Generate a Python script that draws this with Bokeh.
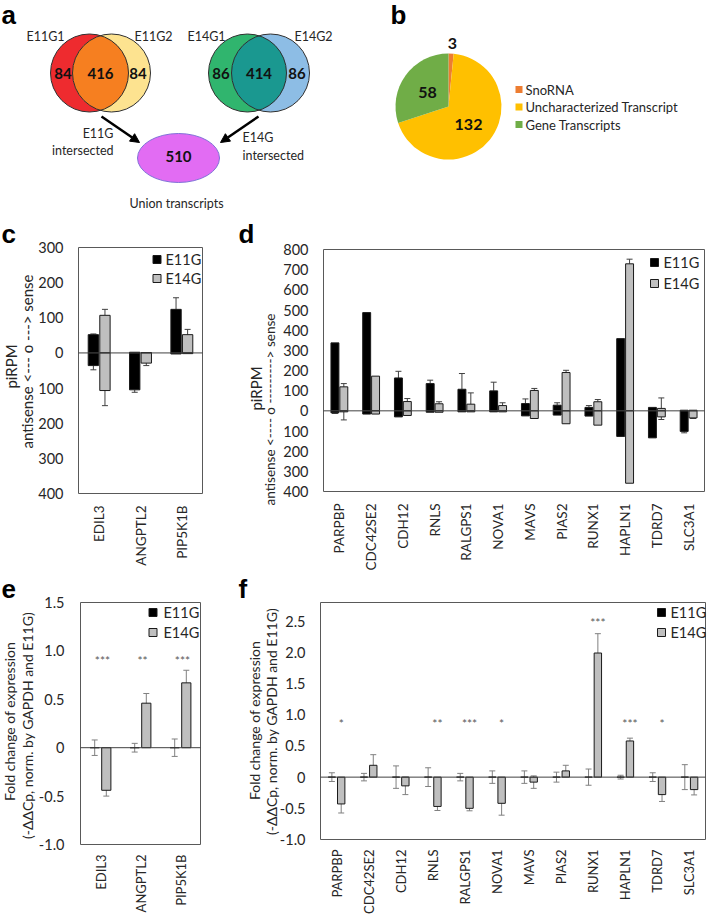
import math
from bokeh.plotting import figure
from bokeh.layouts import column, row
from bokeh.models import Range1d, Arrow, NormalHead, Whisker, TeeHead, ColumnDataSource
from bokeh.core.properties import value
from bokeh.embed import file_html
from bokeh.resources import INLINE

# ---------------- data ----------------
# a: Venn diagrams
e11_names = ["E11G1", "E11G2"]
e11_counts = [84, 416, 84]
e14_names = ["E14G1", "E14G2"]
e14_counts = [86, 414, 86]
union_count = 510

# b: pie
pie_labels = ["SnoRNA", "Uncharacterized Transcript", "Gene Transcripts"]
pie_values = [3, 132, 58]
pie_colors = ["#ED7D31", "#FFC000", "#70AD47"]

series_names = ["E11G", "E14G"]
series_colors = ["#000000", "#BFBFBF"]

# c: piRPM (sense up, antisense down)
genes_c = ["EDIL3", "ANGPTL2", "PIP5K1B"]
c_e11_sense = [52, 2, 124]
c_e11_sense_err = [2, 0, 33]
c_e11_anti = [36, 105, 3]
c_e11_anti_err = [12, 7, 0]
c_e14_sense = [107, 1, 52]
c_e14_sense_err = [17, 0, 15]
c_e14_anti = [107, 29, 2]
c_e14_anti_err = [43, 7, 0]
c_yticks = [300, 200, 100, 0, -100, -200, -300, -400]
c_ytick_labels = ["300", "200", "100", "0", "100", "200", "300", "400"]

# d: piRPM
genes_d = ["PARPBP", "CDC42SE2", "CDH12", "RNLS", "RALGPS1", "NOVA1",
           "MAVS", "PIAS2", "RUNX1", "HAPLN1", "TDRD7", "SLC3A1"]
d_e11_sense = [337, 487, 163, 135, 107, 99, 36, 28, 17, 358, 17, 3]
d_e11_sense_err = [0, 0, 33, 17, 78, 43, 23, 12, 9, 0, 0, 0]
d_e11_anti = [10, 16, 30, 7, 5, 5, 25, 21, 26, 127, 134, 102]
d_e11_anti_err = [3, 0, 0, 0, 0, 0, 0, 0, 0, 0, 0, 7]
d_e14_sense = [119, 172, 46, 35, 33, 26, 101, 190, 45, 729, 12, 3]
d_e14_sense_err = [16, 0, 15, 10, 56, 14, 10, 11, 11, 23, 52, 0]
d_e14_anti = [5, 16, 23, 7, 5, 5, 38, 64, 71, 359, 30, 35]
d_e14_anti_err = [40, 0, 0, 0, 0, 0, 0, 0, 0, 0, 13, 3]
d_yticks = [800, 700, 600, 500, 400, 300, 200, 100, 0, -100, -200, -300, -400]
d_ytick_labels = ["800", "700", "600", "500", "400", "300", "200", "100", "0",
                  "100", "200", "300", "400"]

# e: fold change
e_e11 = [0, 0, 0]
e_e11_err = [0.08, 0.045, 0.09]
e_e14 = [-0.44, 0.46, 0.67]
e_e14_err = [0.06, 0.10, 0.13]
e_stars = ["***", "**", "***"]
e_star_y = [0.9, 0.9, 0.9]
e_yticks = [1.5, 1.0, 0.5, 0, -0.5, -1.0]
e_ytick_labels = ["1.5", "1.0", "0.5", "0", "-0.5", "-1.0"]

# f: fold change
f_e11 = [0] * 12
f_e11_err = [0.07, 0.06, 0.18, 0.15, 0.06, 0.10, 0.10, 0.08, 0.13, 0.03, 0.07, 0.20]
f_e14 = [-0.43, 0.19, -0.14, -0.47, -0.50, -0.42, -0.08, 0.10, 1.99, 0.58, -0.28, -0.20]
f_e14_err = [0.145, 0.17, 0.14, 0.065, 0.04, 0.19, 0.10, 0.09, 0.31, 0.045, 0.11, 0.085]
f_stars = ["*", "", "", "**", "***", "*", "", "", "***", "***", "*", ""]
f_star_y = [0.86, 0.86, 0.86, 0.86, 0.86, 0.86, 0.86, 0.86, 2.48, 0.86, 0.86, 0.86]
f_yticks = [2.5, 2.0, 1.5, 1.0, 0.5, 0, -0.5, -1.0]
f_ytick_labels = ["2.5", "2.0", "1.5", "1.0", "0.5", "0", "-0.5", "-1.0"]

# ---------------- styling ----------------
FONT = "Lato"
LFONT = "Liberation Sans"
TXT = "#262626"
FRAME = "#595959"

def base_fig(x0, x1, y0, y1, xr, yr):
    p = figure(width=x1 - x0, height=y1 - y0, x_range=Range1d(*xr), y_range=Range1d(*yr),
               output_backend="svg", title=None, toolbar_location=None,
               x_axis_location=None, y_axis_location=None,
               min_border=0, min_border_left=0, min_border_right=0,
               min_border_top=0, min_border_bottom=0)
    p.grid.visible = False
    p.outline_line_color = None
    return p

def put(p, x, y, s, size, bold=False, align="center", baseline="middle", font=FONT,
        angle=0.0, color=TXT):
    p.text(x=[x], y=[y], text=[s], text_font=value(font), text_font_size=f"{size}px",
           text_font_style="bold" if bold else "normal", text_align=align,
           text_baseline=baseline, angle=angle, text_color=color)

# ---------------- panel a ----------------
# coordinates: x = page px, y = -page px
pa = base_fig(0, 345, 0, 218, (0, 345), (-218, 0))
R = 39
YC = -72.5

def lens(x1, x2, yc, r, n=50):
    th = math.acos((x2 - x1) / 2 / r)
    xs, ys = [], []
    for i in range(n + 1):
        a = -th + 2 * th * i / n
        xs.append(x1 + r * math.cos(a)); ys.append(yc + r * math.sin(a))
    for i in range(n + 1):
        a = math.pi - th + 2 * th * i / n
        xs.append(x2 + r * math.cos(a)); ys.append(yc + r * math.sin(a))
    return xs, ys

venns = [
    (89, 111, "#EE2B2F", "#FDE390", "#F67F20", e11_names, e11_counts, (45, 153)),
    (247, 270, "#30B56E", "#8DBDE5", "#1A9890", e14_names, e14_counts, (206, 313)),
]
for x1, x2, c1, c2, c12, names, counts, (lx1, lx2) in venns:
    pa.ellipse(x=[x1], y=[YC], width=2 * R, height=2 * R, fill_color=c1, line_color=None)
    pa.ellipse(x=[x2], y=[YC], width=2 * R, height=2 * R, fill_color=c2, line_color=None)
    lx, ly = lens(x1, x2, YC, R)
    pa.patch(lx, ly, fill_color=c12, line_color=None)
    pa.ellipse(x=[x1, x2], y=[YC, YC], width=2 * R, height=2 * R, fill_color=None,
               line_color="#303030", line_width=1)
    put(pa, lx1, -36, names[0], 12.5)
    put(pa, lx2, -36, names[1], 12.5)
    mid = (x1 + x2) / 2
    put(pa, x1 - R + 12.5, YC, str(counts[0]), 15, bold=True, color="#111")
    put(pa, mid, YC, str(counts[1]), 15, bold=True, color="#111")
    put(pa, x2 + R - 12.5, YC, str(counts[2]), 15, bold=True, color="#111")

pa.add_layout(Arrow(end=NormalHead(size=9, fill_color="black", line_color="black"),
                    x_start=101, y_start=-116, x_end=139, y_end=-142,
                    line_width=2.5, line_color="black"))
pa.add_layout(Arrow(end=NormalHead(size=9, fill_color="black", line_color="black"),
                    x_start=258, y_start=-116, x_end=220, y_end=-142,
                    line_width=2.5, line_color="black"))
pa.ellipse(x=[178], y=[-157.5], width=82, height=49, fill_color="#E26CF3",
           line_color="#8070D8", line_width=1)
put(pa, 178, -156, str(union_count), 15, bold=True, color="#111")
put(pa, 113, -133, "E11G", 12.5, align="right")
put(pa, 113, -150, "intersected", 12.5, align="right")
put(pa, 242, -137, "E14G", 12.5, align="left")
put(pa, 242, -155, "intersected", 12.5, align="left")
put(pa, 176, -203, "Union transcripts", 12.5)
put(pa, 1, -14, "a", 26, bold=True, align="left", font=LFONT, color="black")

# ---------------- panel b ----------------
pb = base_fig(345, 709, 0, 218, (345, 709), (-218, 0))
tot = sum(pie_values)
starts, ends = [], []
cum = 0
for v in pie_values:
    s0 = math.pi / 2 - 2 * math.pi * cum / tot
    starts.append(s0)
    ends.append(s0 - 2 * math.pi * v / tot)
    cum += v
pb.wedge(x=448, y=-106, radius=53, start_angle=starts, end_angle=ends,
         direction="clock", fill_color=pie_colors, line_color=None)
put(pb, 452, -43, str(pie_values[0]), 16, bold=True, color="#111")
put(pb, 468, -124, str(pie_values[1]), 16, bold=True, color="#111")
put(pb, 427, -92, str(pie_values[2]), 16, bold=True, color="#111")
leg_y = [-89, -106.5, -124]
pb.rect(x=[518.5] * 3, y=leg_y, width=7, height=7, fill_color=pie_colors, line_color=None)
for yy, t in zip(leg_y, pie_labels):
    put(pb, 525, yy, t, 13, align="left")
put(pb, 390, -14, "b", 26, bold=True, align="left", font=LFONT, color="black")

# ---------------- chart panels ----------------
def chart(x0, x1, y0, y1, box, xr, yr):
    """Figure whose frame is the whole canvas; the plot box (ref px) maps to xr/yr."""
    fl, fr, ft, fb = box
    sx = (xr[1] - xr[0]) / (fr - fl)
    sy = (yr[1] - yr[0]) / (fb - ft)
    p = base_fig(x0, x1, y0, y1,
                 (xr[0] - (fl - x0) * sx, xr[1] + (x1 - fr) * sx),
                 (yr[0] - (y1 - fb) * sy, yr[1] + (ft - y0) * sy))

    def fx(rx):
        return xr[0] + (rx - fl) * sx

    def fy(ry):
        return yr[1] - (ry - ft) * sy
    return p, fx, fy

def frame_and_axes(p, fx, fy, xr, yr, cats, yticks, ylabels, tick_right, cat_top,
                   tick_size=14.5, cat_size=13.5):
    p.quad(left=[xr[0]], right=[xr[1]], bottom=[yr[0]], top=[yr[1]], fill_color=None,
           line_color=FRAME, line_width=1)
    p.segment(x0=[xr[0]], y0=[0], x1=[xr[1]], y1=[0], line_color="#404040", line_width=1)
    p.text(x=[fx(tick_right)] * len(yticks), y=yticks, text=ylabels, text_font=value(FONT),
           text_font_size=f"{tick_size}px", text_align="right", text_baseline="middle",
           text_color=TXT)
    p.text(x=list(range(len(cats))), y=[fy(cat_top)] * len(cats), text=cats,
           text_font=value(FONT), text_font_size=f"{cat_size}px", text_align="right",
           text_baseline="middle", angle=math.pi / 2, text_color=TXT)

def legend(p, fx, fy, sq_x, txt_x, rows_y, size=14.5):
    p.scatter(x=[fx(sq_x)] * 2, y=[fy(v) for v in rows_y], marker="square", size=8,
              fill_color=series_colors, line_color="#1a1a1a", line_width=1)
    p.text(x=[fx(txt_x)] * 2, y=[fy(v) for v in rows_y], text=series_names,
           text_font=value(FONT), text_font_size=f"{size}px", text_align="left",
           text_baseline="middle", text_color=TXT)

def whiskers(p, base, lower, upper, color, up=True, low=True, size=6):
    if not base:
        return
    src = ColumnDataSource(dict(base=base, lower=lower, upper=upper))
    p.add_layout(Whisker(source=src, base="base", lower="lower", upper="upper",
                         dimension="height", line_color=color, line_width=1,
                         upper_head=TeeHead(size=size, line_color=color, line_width=1) if up else None,
                         lower_head=TeeHead(size=size, line_color=color, line_width=1) if low else None))

OFF = 0.14
BW = 0.25

def sense_bars(p, sense, serr, anti, aerr, sign, fill):
    n = len(sense)
    xs = [i + sign * OFF for i in range(n)]
    src = ColumnDataSource(dict(x=xs + xs, top=list(sense) + [0] * n,
                                bottom=[0] * n + [-a for a in anti]))
    p.vbar(x="x", top="top", bottom="bottom", width=BW, source=src,
           fill_color=fill, line_color="#1a1a1a", line_width=1)
    ub = [(x, s, s + e) for x, s, e in zip(xs, sense, serr) if e > 0]
    lb = [(x, -a, -a - e) for x, a, e in zip(xs, anti, aerr) if e > 0]
    whiskers(p, [u[0] for u in ub], [u[1] for u in ub], [u[2] for u in ub], "#404040", low=False)
    whiskers(p, [u[0] for u in lb], [u[2] for u in lb], [u[1] for u in lb], "#404040", up=False)

def fold_bars(p, vals, errs, sign, fill, off=0.145, bw=0.23):
    xs = [i + sign * off for i in range(len(vals))]
    p.vbar(x=xs, top=vals, bottom=0, width=bw, fill_color=fill,
           line_color="#1a1a1a", line_width=1)
    whiskers(p, xs, [v - e for v, e in zip(vals, errs)], [v + e for v, e in zip(vals, errs)], "#808080")

# ---- c ----
xr, yr = (-0.5, 2.5), (-400, 300)
pc, fx, fy = chart(0, 215, 218, 572, (78, 202, 247, 493), xr, yr)
sense_bars(pc, c_e11_sense, c_e11_sense_err, c_e11_anti, c_e11_anti_err, -1, series_colors[0])
sense_bars(pc, c_e14_sense, c_e14_sense_err, c_e14_anti, c_e14_anti_err, 1, series_colors[1])
frame_and_axes(pc, fx, fy, xr, yr, genes_c, c_yticks, c_ytick_labels, 63, 505)
legend(pc, fx, fy, 156.5, 165, [259, 278])
put(pc, fx(1), fy(233), "c", 26, bold=True, align="left", font=LFONT, color="black")
put(pc, fx(10), fy(366), "piRPM", 15, angle=math.pi / 2)
put(pc, fx(26), fy(361), "antisense <--- o ---> sense", 15, angle=math.pi / 2)

# ---- d ----
xr, yr = (-0.5, 11.5), (-400, 800)
pd_, fx, fy = chart(215, 709, 218, 572, (323, 704, 249, 491), xr, yr)
sense_bars(pd_, d_e11_sense, d_e11_sense_err, d_e11_anti, d_e11_anti_err, -1, series_colors[0])
sense_bars(pd_, d_e14_sense, d_e14_sense_err, d_e14_anti, d_e14_anti_err, 1, series_colors[1])
frame_and_axes(pd_, fx, fy, xr, yr, genes_d, d_yticks, d_ytick_labels, 308, 503)
legend(pd_, fx, fy, 654, 663, [262, 283])
put(pd_, fx(238), fy(233), "d", 26, bold=True, align="left", font=LFONT, color="black")
put(pd_, fx(255), fy(388), "piRPM", 15, angle=math.pi / 2)
put(pd_, fx(269), fy(409), "antisense <---- o ---------> sense", 13.5, angle=math.pi / 2)

# ---- e ----
xr, yr = (-0.5, 2.5), (-1.0, 1.5)
pe, fx, fy = chart(0, 215, 572, 914, (80, 200, 602, 844), xr, yr)
fold_bars(pe, e_e11, e_e11_err, -1, series_colors[0])
fold_bars(pe, e_e14, e_e14_err, 1, series_colors[1])
frame_and_axes(pe, fx, fy, xr, yr, genes_c, e_yticks, e_ytick_labels, 64, 854, cat_size=13)
pe.text(x=[i + 0.05 for i in range(3)], y=e_star_y, text=e_stars, text_font=value(FONT),
        text_font_size="12px", text_align="center", text_baseline="middle", text_color="#595959")
legend(pe, fx, fy, 152.5, 163, [612, 632])
put(pe, fx(1), fy(588), "e", 26, bold=True, align="left", font=LFONT, color="black")
put(pe, fx(9), fy(721), "Fold change of expression", 14, angle=math.pi / 2)
put(pe, fx(27), fy(725), "(-\u0394\u0394Cp, norm. by GAPDH and E11G)", 14, angle=math.pi / 2)

# ---- f ----
xr, yr = (-0.5, 11.5), (-1.0, 2.8)
pf, fx, fy = chart(215, 709, 572, 914, (320, 705, 602, 839), xr, yr)
fold_bars(pf, f_e11, f_e11_err, -1, series_colors[0])
fold_bars(pf, f_e14, f_e14_err, 1, series_colors[1])
frame_and_axes(pf, fx, fy, xr, yr, genes_d, f_yticks, f_ytick_labels, 305, 849, cat_size=13)
pf.text(x=[i + 0.145 for i in range(12)], y=f_star_y, text=f_stars, text_font=value(FONT),
        text_font_size="12px", text_align="center", text_baseline="middle", text_color="#595959")
legend(pf, fx, fy, 661, 670, [612, 632])
put(pf, fx(238), fy(588), "f", 26, bold=True, align="left", font=LFONT, color="black")
put(pf, fx(254), fy(720), "Fold change of expression", 14, angle=math.pi / 2)
put(pf, fx(271), fy(721), "(-\u0394\u0394Cp, norm. by GAPDH and E11G)", 14, angle=math.pi / 2)

layout = column(row(pa, pb), row(pc, pd_), row(pe, pf))
open("out.html", "w").write(file_html(layout, INLINE))
